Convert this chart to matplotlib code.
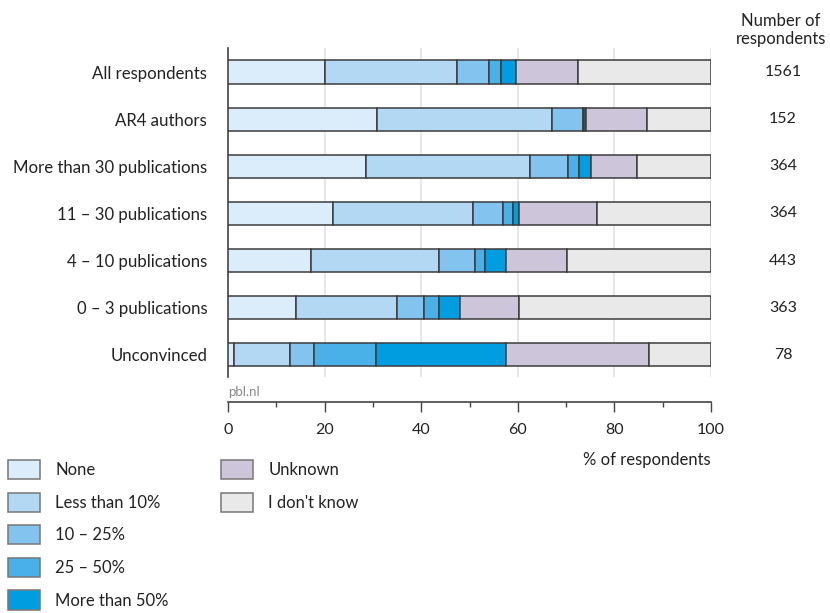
import numpy as np
import matplotlib.pyplot as plt
from matplotlib.ticker import MultipleLocator

plt.rcParams['font.family'] = ['Lato', 'DejaVu Sans']

groups = ['All respondents', 'AR4 authors', 'More than 30 publications',
          '11 – 30 publications', '4 – 10 publications', '0 – 3 publications',
          'Unconvinced']
n_respondents = [1561, 152, 364, 364, 443, 363, 78]

# share of respondents (%) per answer
none = [20.0, 30.8, 28.5, 21.7, 17.2, 14.0, 1.3]
less_10 = [27.4, 36.3, 34.1, 29.1, 26.4, 21.0, 11.5]
p10_25 = [6.7, 6.4, 7.7, 6.1, 7.6, 5.5, 5.1]
p25_50 = [2.4, 0.3, 2.4, 2.1, 2.1, 3.1, 12.8]
more_50 = [3.2, 0.4, 2.5, 1.2, 4.2, 4.4, 26.9]
unknown = [12.8, 12.6, 9.4, 16.2, 12.7, 12.3, 29.5]
dont_know = [27.5, 13.2, 15.4, 23.6, 29.8, 39.7, 12.9]

answers = ['None', 'Less than 10%', '10 – 25%', '25 – 50%', 'More than 50%',
           'Unknown', "I don't know"]
colors = ['#dbecfa', '#b3d8f4', '#83c3ef', '#4ab0e8', '#009ee0',
          '#cdc5d9', '#e9e9e9']
series = [none, less_10, p10_25, p25_50, more_50, unknown, dont_know]

fig = plt.figure(figsize=(8.3, 6.13), dpi=100)
W, H = 830, 613
ax = fig.add_axes([228 / W, 1 - 377 / H, (711 - 228) / W, (377 - 48) / H])

y = np.arange(len(groups))
left = np.zeros(len(groups))
bars = []
for vals, col, lab in zip(series, colors, answers):
    b = ax.barh(y, vals, left=left, height=0.49, color=col,
                edgecolor='#3c3c3c', linewidth=1.1, label=lab, zorder=3)
    bars.append(b)
    left += np.array(vals)

ax.set_xlim(0, 100)
ax.set_ylim(len(groups) - 0.53, -0.51)
ax.set_yticks(y)
ax.set_yticklabels(groups, fontsize=12.1, color='#222222')
ax.tick_params(axis='y', length=0, pad=15)

ax.xaxis.set_major_locator(MultipleLocator(20))
ax.xaxis.set_minor_locator(MultipleLocator(10))
ax.tick_params(axis='x', which='major', direction='out', length=7.2,
               width=1, color='#444444', labelsize=11.5, pad=8,
               labelcolor='#222222')
ax.tick_params(axis='x', which='minor', direction='out', length=3.6,
               width=1, color='#444444')
ax.grid(axis='x', which='major', color='#e4e4e4', linewidth=1.2, zorder=0)

for s in ['top', 'right']:
    ax.spines[s].set_visible(False)
ax.spines['left'].set_color('#444444')
ax.spines['left'].set_linewidth(1.2)
ax.spines['bottom'].set_position(('outward', 18))
ax.spines['bottom'].set_color('#444444')
ax.spines['bottom'].set_linewidth(1.2)

fig.text(228 / W, 1 - 392 / H, 'pbl.nl', fontsize=9.5, color='#8a8a8a',
         ha='left', va='center')
fig.text(711 / W, 1 - 460 / H, '% of respondents', fontsize=12,
         color='#222222', ha='right', va='center')

fig.text(781 / W, 1 - 30 / H, 'Number of\nrespondents', fontsize=12,
         color='#222222', ha='center', va='center', linespacing=1.1)
for yi, n in zip(y, n_respondents):
    ax.text(1.0 + 72 / (711 - 228), yi, str(n), transform=ax.get_yaxis_transform(),
            fontsize=11.5, color='#222222', ha='center', va='center')

leg_kw = dict(frameon=False, fontsize=12, handlelength=1.9,
              handleheight=1.4, handletextpad=0.95, labelspacing=0.8,
              borderaxespad=0, borderpad=0, labelcolor='#222222')
leg1 = fig.legend(bars[:5], answers[:5], loc='upper left',
                  bbox_to_anchor=(8 / W, 1 - 460 / H), **leg_kw)
leg2 = fig.legend(bars[5:], answers[5:], loc='upper left',
                  bbox_to_anchor=(221 / W, 1 - 460 / H), **leg_kw)
for leg in (leg1, leg2):
    for p in leg.get_patches():
        p.set_edgecolor('#777777')

fig.savefig('out.png', dpi=100)
